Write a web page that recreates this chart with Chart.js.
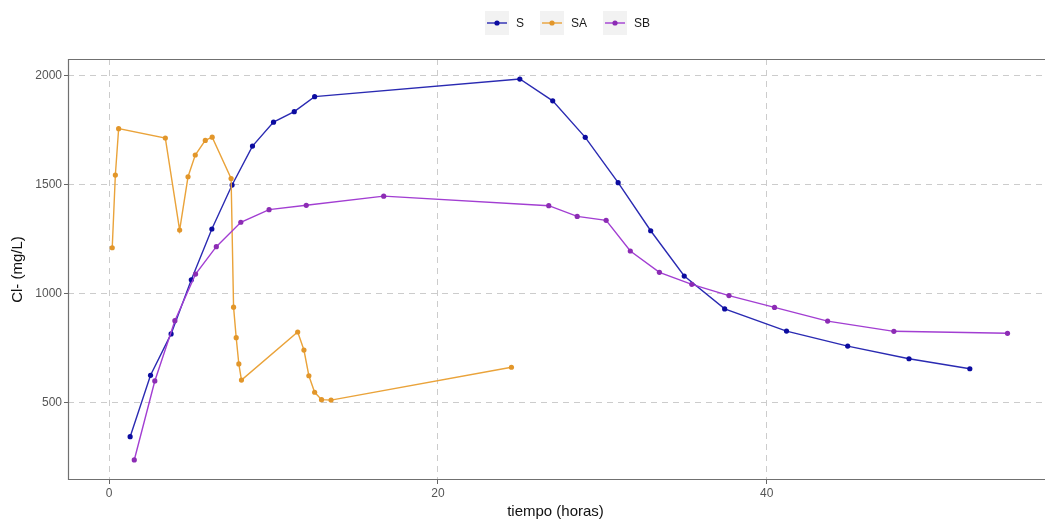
<!DOCTYPE html>
<html>
<head>
<meta charset="utf-8">
<script src="https://cdn.jsdelivr.net/npm/chart.js@4/dist/chart.umd.min.js"></script>
<style>
  html, body { margin: 0; padding: 0; background: #ffffff; overflow: hidden; }
  #wrap { width: 1047px; height: 521px; position: relative; }
</style>
</head>
<body>
<div id="wrap"><canvas id="chart" width="1047" height="521"></canvas></div>
<script>
// Cloruro (mg/L) frente al tiempo (horas) para las series S, SA y SB
const S_tiempo = [1.28, 2.52, 3.77, 5.0, 6.25, 7.48, 8.72, 10.0, 11.26, 12.5,
                  24.98, 26.98, 28.96, 30.96, 32.94, 34.98, 37.44, 41.2, 44.92, 48.65, 52.35];
const S_cl = [342, 624, 814, 1063, 1296, 1498, 1677, 1787, 1835, 1904,
              1985, 1885, 1717, 1509, 1288, 1080, 929, 827, 758, 700, 654];

const SA_tiempo = [0.19, 0.38, 0.58, 3.42, 4.29, 4.8, 5.24, 5.85, 6.27, 7.42, 7.57,
                   7.73, 7.89, 8.05, 11.47, 11.85, 12.15, 12.5, 12.92, 13.5, 24.47];
const SA_cl = [1210, 1544, 1757, 1714, 1291, 1536, 1636, 1703, 1718, 1528, 937,
               797, 676, 602, 823, 740, 622, 546, 512, 510, 661];

const SB_tiempo = [1.53, 2.78, 4.0, 5.26, 6.52, 8.01, 9.73, 11.99, 16.7,
                   26.74, 28.47, 30.23, 31.7, 33.47, 35.44, 37.7, 40.47, 43.7, 47.73, 54.64];
const SB_cl = [235, 598, 875, 1089, 1215, 1327, 1385, 1405, 1447,
               1403, 1354, 1336, 1195, 1097, 1042, 990, 936, 873, 826, 817];

const xTicks = [0, 20, 40];
const yTicks = [500, 1000, 1500, 2000];
const seriesNames = ['S', 'SA', 'SB'];

const toPoints = (xs, ys) => xs.map((x, i) => ({ x: x, y: ys[i] }));

const lineColors = ['#2a2ab2', '#eaa33a', '#a23ed2'];
const pointColors = ['#0c0ca0', '#e2962a', '#8c2cb4'];
const seriesData = [
  toPoints(S_tiempo, S_cl),
  toPoints(SA_tiempo, SA_cl),
  toPoints(SB_tiempo, SB_cl)
];

const datasets = seriesNames.map((name, i) => ({
  label: name,
  data: seriesData[i],
  borderColor: lineColors[i],
  backgroundColor: pointColors[i],
  pointBackgroundColor: pointColors[i],
  pointBorderColor: pointColors[i],
  pointRadius: 2.6,
  pointBorderWidth: 0,
  borderWidth: 1.4,
  tension: 0,
  fill: false,
  order: 2 - i
}));

// Panel border (top, left, bottom) drawn above the grid
const panelBorder = {
  id: 'panelBorder',
  afterDraw(chart) {
    const { ctx, chartArea: a } = chart;
    ctx.save();
    ctx.strokeStyle = '#707070';
    ctx.lineWidth = 1.2;
    ctx.beginPath();
    ctx.moveTo(a.right + 2, a.top + 0.5);
    ctx.lineTo(a.left + 0.5, a.top + 0.5);
    ctx.lineTo(a.left + 0.5, a.bottom - 0.5);
    ctx.lineTo(a.right + 2, a.bottom - 0.5);
    ctx.stroke();
    ctx.restore();
  }
};

// Legend at the top: grey key boxes with a line and a point, then the label
const topLegend = {
  id: 'topLegend',
  afterDraw(chart) {
    const { ctx } = chart;
    ctx.save();
    ctx.font = '12px "Liberation Sans", Arial, sans-serif';
    ctx.textBaseline = 'middle';
    const cy = 23;
    const keySize = 24;
    let x = 485;
    chart.data.datasets.forEach((ds) => {
      ctx.fillStyle = '#f2f2f2';
      ctx.fillRect(x, cy - keySize / 2, keySize, keySize);
      ctx.strokeStyle = ds.borderColor;
      ctx.lineWidth = 1.4;
      ctx.beginPath();
      ctx.moveTo(x + 2, cy);
      ctx.lineTo(x + keySize - 2, cy);
      ctx.stroke();
      ctx.fillStyle = ds.pointBackgroundColor;
      ctx.beginPath();
      ctx.arc(x + keySize / 2, cy, 2.6, 0, Math.PI * 2);
      ctx.fill();
      ctx.fillStyle = '#1a1a1a';
      const lx = x + keySize + 7;
      ctx.fillText(ds.label, lx, cy + 0.5);
      x = lx + ctx.measureText(ds.label).width + 16;
    });
    ctx.restore();
  }
};

const tickFont = { family: '"Liberation Sans", Arial, sans-serif', size: 12 };
const titleFont = { family: '"Liberation Sans", Arial, sans-serif', size: 15 };

new Chart(document.getElementById('chart'), {
  type: 'line',
  data: { datasets: datasets },
  options: {
    responsive: false,
    animation: false,
    devicePixelRatio: 1,
    layout: { padding: { top: 59, left: 0, right: 0, bottom: 0 } },
    plugins: {
      legend: { display: false },
      tooltip: { enabled: false }
    },
    scales: {
      x: {
        type: 'linear',
        min: -2.5,
        max: 56.8,
        afterBuildTicks: (scale) => { scale.ticks = xTicks.map(v => ({ value: v })); },
        afterFit: (scale) => { scale.height = 41; },
        ticks: { color: '#555555', font: tickFont, padding: 2, maxRotation: 0,
                 callback: (v) => String(v) },
        grid: {
          color: '#cccccc',
          lineWidth: 1,
          tickLength: 4,
          tickColor: '#666666',
          tickWidth: 1,
          tickBorderDash: []
        },
        border: { display: false, dash: [6, 5] },
        title: {
          display: true,
          text: 'tiempo (horas)',
          color: '#111111',
          font: titleFont,
          padding: { top: 0, bottom: 0 }
        }
      },
      y: {
        type: 'linear',
        min: 143,
        max: 2077,
        afterBuildTicks: (scale) => { scale.ticks = yTicks.map(v => ({ value: v })); },
        afterFit: (scale) => { scale.width = 68; },
        ticks: { color: '#555555', font: tickFont, padding: 2,
                 callback: (v) => String(v) },
        grid: {
          color: '#cccccc',
          lineWidth: 1,
          tickLength: 4,
          tickColor: '#666666',
          tickWidth: 1,
          tickBorderDash: []
        },
        border: { display: false, dash: [6, 5] },
        title: {
          display: true,
          text: 'Cl- (mg/L)',
          color: '#111111',
          font: titleFont,
          padding: { top: 9, bottom: 0 }
        }
      }
    }
  },
  plugins: [panelBorder, topLegend]
});
</script>
</body>
</html>
